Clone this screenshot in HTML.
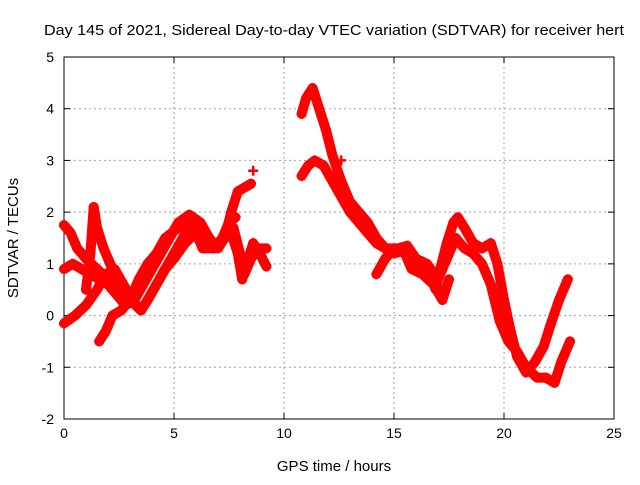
<!DOCTYPE html>
<html><head><meta charset="utf-8"><style>
body{margin:0;background:#fff}
svg text{font-family:"Liberation Sans",sans-serif;font-size:14px;fill:#000}
</style></head><body>
<svg width="640" height="480">
<g id="grid"></g>
<g id="axes"></g>
<g id="series"></g>
<text x="44" y="35" textLength="580" lengthAdjust="spacingAndGlyphs" style="font-size:15px">Day 145 of 2021, Sidereal Day-to-day VTEC variation (SDTVAR) for receiver hert</text>
<text x="334" y="471" text-anchor="middle" style="font-size:15px">GPS time / hours</text>
<text x="0" y="0" transform="translate(18,238) rotate(-90)" text-anchor="middle" style="font-size:15px">SDTVAR / TECUs</text>
</svg>
<script>
const xTicks=[0,5,10,15,20,25];
const yTicks=[-2,-1,0,1,2,3,4,5];
const traceA=[[0,1.75],[0.3,1.6],[0.6,1.3],[1,1.1],[1.5,0.9],[2,0.7],[2.5,0.5],[3,0.3],[3.5,0.1],[3.8,0.3],[4.2,0.6],[4.6,0.9],[5,1.1],[5.5,1.4],[6,1.6],[6.3,1.3],[6.8,1.3],[7.2,1.5],[7.5,1.8],[7.8,1.9]];
const traceB=[[0,0.9],[0.4,1.0],[0.8,0.9],[1.2,0.8],[1.6,0.7],[2.0,0.6],[2.4,0.4],[2.8,0.2],[3.2,0.3],[3.6,0.6],[4,0.9],[4.4,1.2],[4.8,1.5],[5.2,1.8],[5.7,1.95],[6.2,1.8],[6.6,1.5],[7,1.3],[7.3,1.5],[7.6,2.0],[7.9,2.4],[8.3,2.5],[8.5,2.55]];
const traceC=[[0,-0.15],[0.5,0],[1,0.2],[1.5,0.5],[1.9,0.8],[2.3,0.9],[2.7,0.6],[3.1,0.3],[3.5,0.1],[3.8,0.3],[4.2,0.6],[4.6,0.9],[5.0,1.2],[5.4,1.5],[5.8,1.8],[6.3,1.6],[6.8,1.3],[7.3,1.5],[7.7,1.7],[8.0,1.2],[8.2,0.8],[8.5,1.1],[8.8,1.3],[9.2,1.3]];
const traceD=[[1.0,0.5],[1.2,1.2],[1.35,2.1],[1.5,1.7],[1.8,1.3],[2.1,1.0],[2.5,0.6],[2.8,0.3]];
const traceE=[[1.6,-0.5],[1.9,-0.3],[2.2,0],[2.6,0.1],[3.0,0.3],[3.4,0.7],[3.8,1.0],[4.2,1.2],[4.6,1.5],[5.2,1.7],[5.5,1.8]];
const traceF=[[7.6,1.6],[7.9,1.2],[8.1,0.7],[8.3,1.0],[8.6,1.4],[8.9,1.2],[9.2,0.95]];
const traceG=[[10.8,3.9],[11.0,4.2],[11.3,4.4],[11.6,4.0],[11.9,3.6],[12.2,3.1],[12.6,2.6],[13.0,2.2],[13.4,2.0],[13.8,1.8],[14.2,1.5],[14.6,1.3],[15.0,1.2],[15.4,1.25],[15.8,1.1],[16.2,1.0],[16.6,0.8],[16.9,0.5],[17.1,0.9],[17.4,1.4],[17.7,1.8],[17.9,1.9],[18.2,1.7],[18.6,1.4],[19.0,1.3],[19.4,1.4],[19.7,1.0],[20,0.3],[20.3,-0.3],[20.6,-0.8],[21,-1.1],[21.4,-0.9],[21.8,-0.6],[22.1,-0.2],[22.5,0.3],[22.9,0.7]];
const traceH=[[10.8,2.7],[11.1,2.9],[11.4,3.0],[11.8,2.9],[12.2,2.6],[12.6,2.3],[13.0,2.0],[13.4,1.8],[13.8,1.6],[14.2,1.4],[14.6,1.3],[15.2,1.3],[15.6,1.35],[16.0,1.1],[16.5,1.0],[17.0,0.7],[17.4,1.1],[17.8,1.5],[18.2,1.3],[18.6,1.2],[19.0,1.0],[19.4,0.6],[19.8,-0.1],[20.2,-0.5],[20.6,-0.7],[21.0,-1.0],[21.5,-1.2],[21.9,-1.2],[22.3,-1.3],[22.6,-0.9],[23.0,-0.5]];
const traceI=[[14.2,0.8],[14.6,1.1],[15.0,1.3],[15.5,1.2],[15.8,0.9],[16.3,0.8],[16.8,0.6],[17.2,0.3],[17.5,0.7]];
const singles=[[8.6,2.8],[7.7,1.85],[12.6,3.0]];
const traces=[traceA,traceB,traceC,traceD,traceE,traceF,traceG,traceH,traceI];
const NS='http://www.w3.org/2000/svg';
const L=64,R=614,T=57,B=419;
function sx(v){return L+(v-0)/(25-0)*(R-L);}
function sy(v){return B-(v+2)/(5+2)*(B-T);}
function mk(tag,attrs,parent){const e=document.createElementNS(NS,tag);for(const k in attrs)e.setAttribute(k,attrs[k]);parent.appendChild(e);return e;}
const grid=document.getElementById('grid'),axes=document.getElementById('axes'),ser=document.getElementById('series');
xTicks.forEach(t=>{
  if(t>0&&t<25){const g=mk('line',{x1:sx(t),x2:sx(t),y1:T,y2:B,stroke:'#a0a0a0','stroke-dasharray':'2,3'},grid);
  
  }
  mk('line',{x1:sx(t),x2:sx(t),y1:B,y2:B-6,stroke:'#000'},axes);
  mk('line',{x1:sx(t),x2:sx(t),y1:T,y2:T+6,stroke:'#000'},axes);
  const tx=mk('text',{x:sx(t),y:B+19,'text-anchor':'middle'},axes);tx.textContent=t;
  
  
});
yTicks.forEach(t=>{
  if(t>-2&&t<5){const g=mk('line',{x1:L,x2:R,y1:sy(t),y2:sy(t),stroke:'#a0a0a0','stroke-dasharray':'2,3'},grid);
  
  }
  mk('line',{x1:L,x2:L+6,y1:sy(t),y2:sy(t),stroke:'#000'},axes);
  mk('line',{x1:R,x2:R-6,y1:sy(t),y2:sy(t),stroke:'#000'},axes);
  const tx=mk('text',{x:L-10,y:sy(t)+5,'text-anchor':'end'},axes);tx.textContent=t;
  
  
});
mk('rect',{x:L,y:T,width:R-L,height:B-T,fill:'none',stroke:'#000'},axes);
traces.forEach((tr,i)=>{
  const pl=mk('polyline',{points:tr.map(p=>sx(p[0])+','+sy(p[1])).join(' '),fill:'none',stroke:'#f00','stroke-width':10,'stroke-linejoin':'round','stroke-linecap':'round'},ser);
  
  
});
traces.concat([singles]).forEach(tr=>tr.forEach(p=>{
  const x=sx(p[0]),y=sy(p[1]);
  const m=mk('path',{d:`M${x-5},${y}H${x+5}M${x},${y-5}V${y+5}`,stroke:'#f00','stroke-width':2.5},ser);
  
  
}));
</script>
</body></html>
